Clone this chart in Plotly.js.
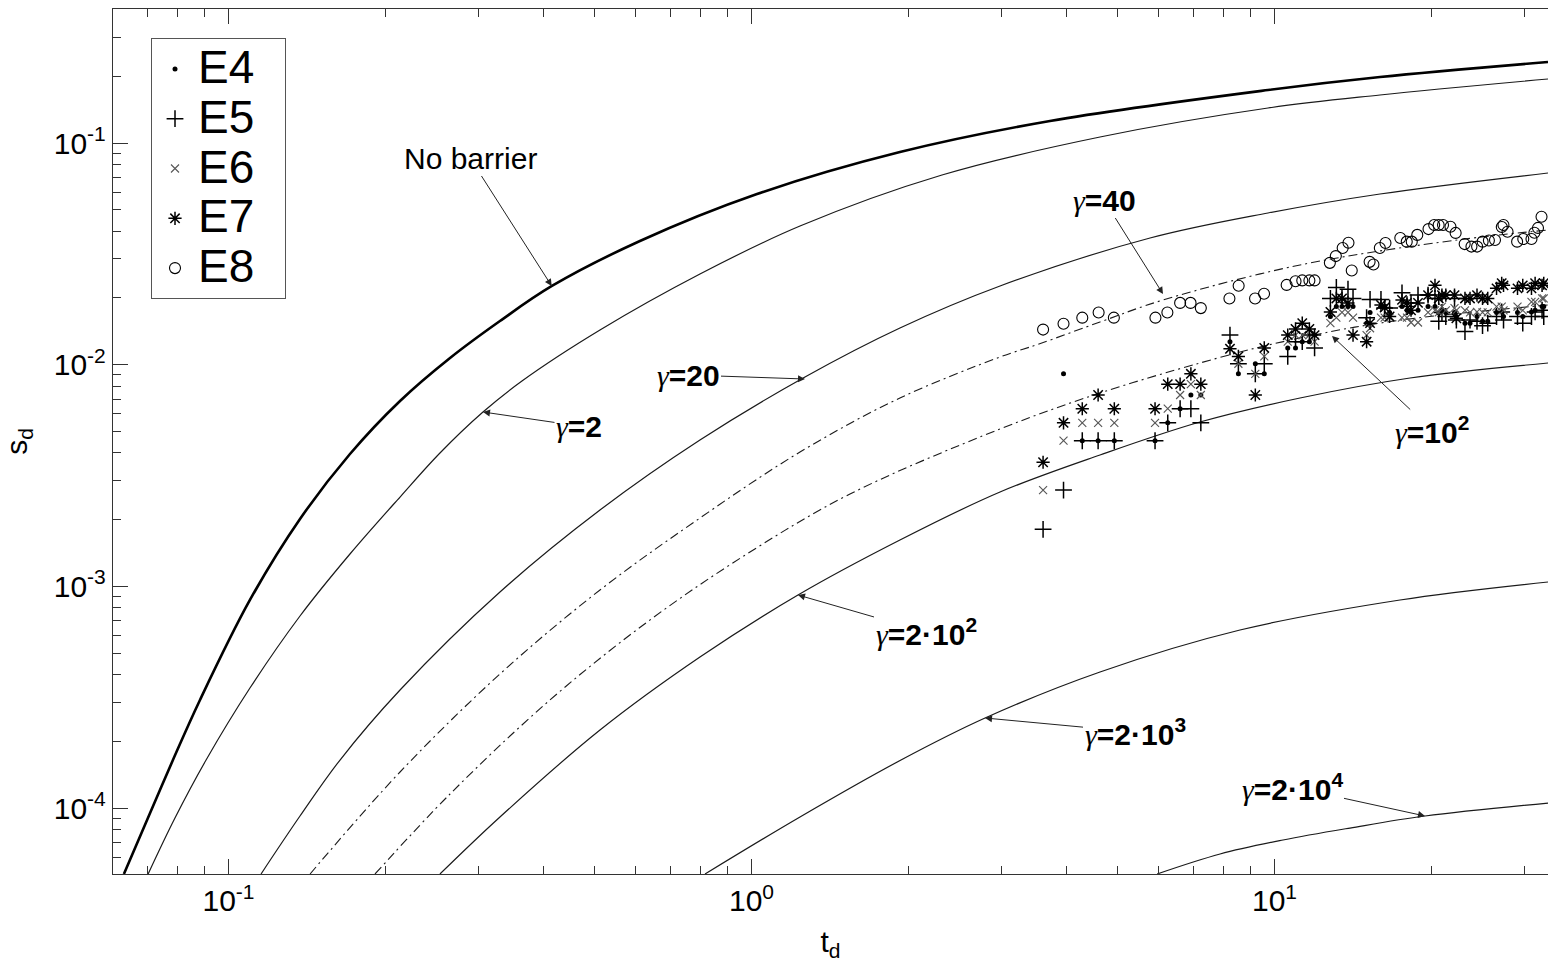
<!DOCTYPE html>
<html><head><meta charset="utf-8">
<script src="https://cdn.plot.ly/plotly-3.0.1.min.js"></script>
<style>html,body{margin:0;padding:0;background:#fff}#chart{width:1548px;height:965px}</style>
</head><body><div id="chart"></div>
<script>
// ---------- model curves (t_d, s_d) ----------
const tNoBarrier = [0.0631,0.0708,0.0783,0.0882,0.1099,0.1370,0.1707,0.2128,0.2652,0.3304,0.4153,0.6119,1.0245,1.9223,3.7214,9.7186,15.912,33.34];
const sNoBarrier = [5.045e-5,9.50e-5,1.648e-4,3.074e-4,8.685e-4,2.014e-3,3.955e-3,6.860e-3,1.072e-2,1.574e-2,2.265e-2,3.614e-2,5.888e-2,9.108e-2,0.1257,0.1734,0.1984,0.2319];

const tG2 = [0.0702,0.0790,0.0906,0.1099,0.1370,0.1707,0.2128,0.2537,0.3066,0.3640,0.5132,0.7970,1.2380,2.3132,4.6384,9.7186,15.912,33.34];
const sG2 = [5.045e-5,9.02e-5,1.648e-4,3.480e-4,7.354e-4,1.400e-3,2.530e-3,3.997e-3,6.118e-3,8.443e-3,1.434e-2,2.565e-2,4.222e-2,7.173e-2,0.1064,0.1438,0.1646,0.1944];

const tG20 = [0.1154,0.1370,0.1634,0.2128,0.3304,0.5132,0.7970,1.2654,1.9223,2.9867,5.7810,9.7186,15.912,33.34];
const sG20 = [5.045e-5,9.21e-5,1.648e-4,3.409e-4,9.436e-4,2.211e-3,4.575e-3,8.801e-3,1.464e-2,2.265e-2,3.727e-2,4.834e-2,5.888e-2,7.322e-2];

const tG40 = [0.1432,0.2128,0.3304,0.5132,0.7970,1.2380,1.9223,2.9867,3.5457,4.6384,6.1220,11.189,22.331,33.34];
const sG40 = [5.045e-5,1.455e-4,4.026e-4,9.634e-4,2.034e-3,4.038e-3,7.077e-3,1.083e-2,1.240e-2,1.558e-2,1.958e-2,2.817e-2,3.651e-2,4.051e-2];

const tG100 = [0.1906,0.2652,0.4118,0.6394,0.9934,1.5429,2.9867,4.6384,7.2028,9.3826,11.189,13.945,18.728,33.34];
const sG100 = [5.045e-5,1.158e-4,3.074e-4,7.054e-4,1.429e-3,2.611e-3,5.129e-3,7.453e-3,1.018e-2,1.202e-2,1.319e-2,1.464e-2,1.624e-2,1.859e-2];

const tG200 = [0.2537,0.3304,0.5132,0.7970,1.2271,1.9223,2.9867,4.6384,7.2028,11.189,18.159,33.34];
const sG200 = [5.045e-5,9.12e-5,2.251e-4,4.804e-4,9.146e-4,1.619e-3,2.666e-3,3.915e-3,5.514e-3,7.077e-3,8.710e-3,1.018e-2];

const tG2000 = [0.8150,1.2380,1.9311,2.7960,4.6384,8.5901,17.378,33.34];
const sG2000 = [5.045e-5,9.12e-5,1.648e-4,2.549e-4,4.111e-4,6.357e-4,8.685e-4,1.047e-3];

const tG20000 = [5.963,7.869,10.382,13.945,19.401,33.34];
const sG20000 = [5.045e-5,6.21e-5,7.18e-5,8.13e-5,9.21e-5,1.054e-4];

// ---------- experiments ----------
const tExp = [3.61,3.95,4.29,4.60,4.94,5.91,6.25,6.60,6.92,7.23,8.22,8.53,9.19,9.56,10.6,10.97,11.3,11.66,11.93,12.79,13.13,13.46,13.82,14.13,15.0,15.23,15.98,16.24,16.6,17.53,17.92,18.24,18.81,19.66,20.27,20.61,20.9,21.26,22.09,22.27,23.13,23.65,24.39,24.99,25.57,26.58,27.19,27.41,29.15,29.83,31.0,31.5,32.48,32.72];
const sE4 = [null,0.0091,0.00454,0.00454,0.00454,0.00454,0.00547,0.00633,0.0073,0.0073,0.0127,0.0091,0.0101,0.0091,0.0119,0.0119,0.0127,0.0127,0.0136,0.0165,0.0183,0.0183,0.0183,0.0183,0.0154,0.0172,0.0183,0.0183,0.0172,0.0183,0.0176,0.0172,0.0176,0.0183,0.0183,0.0171,0.0176,0.0172,0.0172,0.0165,0.0154,0.0154,0.0165,0.0157,0.0157,0.0172,0.0173,0.0165,0.0172,0.0165,0.0173,0.0176,0.0183,0.0183];
const sE5 = [0.00181,0.00272,0.00454,0.00454,0.00454,0.00454,0.00547,0.00633,0.00633,0.00547,0.0136,0.0101,0.0091,0.0101,0.0109,0.0127,0.0127,0.0136,0.0119,0.0199,0.0223,0.0199,0.0219,0.0199,0.0163,0.0197,0.0197,0.0180,0.0180,0.0211,0.0183,0.0190,0.0206,0.0206,0.0199,0.0157,0.0172,0.0165,0.0199,0.0159,0.0141,0.0159,0.0157,0.0150,0.0154,0.0165,0.0173,0.0159,0.0165,0.0154,0.0165,0.0173,0.0176,0.0165];
const sE6 = [0.00272,0.00454,0.00547,0.00547,0.00547,0.00547,0.00633,0.0073,0.00817,0.0073,0.0118,0.0101,0.0091,0.0109,0.0127,0.0136,0.0136,0.0136,0.0127,0.0154,0.0163,0.0172,0.0172,0.0163,0.0136,0.0146,0.0163,0.0163,0.0163,0.0163,0.0163,0.0155,0.0155,0.0172,0.0176,0.0172,0.0183,0.0176,0.0180,0.0176,0.0176,0.0172,0.0173,0.0172,0.0172,0.0183,0.0183,0.0176,0.0183,0.0176,0.0192,0.0192,0.0199,0.0199];
const sE7 = [0.00363,0.00547,0.00633,0.0073,0.00633,0.00633,0.00817,0.00817,0.0091,0.00817,0.0118,0.0109,0.0073,0.0119,0.0136,0.0145,0.0154,0.0145,0.0136,0.0173,0.0199,0.0199,0.0190,0.0136,0.0127,0.0154,0.0186,0.0181,0.0165,0.0196,0.0190,0.0176,0.0190,0.0206,0.0228,0.0199,0.0206,0.0206,0.0206,0.0162,0.0199,0.0199,0.0206,0.0199,0.0199,0.0221,0.0233,0.0228,0.0221,0.0228,0.0221,0.0233,0.0228,0.0233];

const tE8 = [3.61,3.95,4.29,4.61,4.93,5.92,6.24,6.60,6.91,7.23,8.20,8.54,9.18,9.55,10.55,10.97,11.30,11.66,11.93,12.76,13.10,13.50,13.85,14.05,15.20,15.46,15.90,16.30,17.40,17.90,18.30,18.75,19.70,20.20,20.60,21.00,21.70,22.20,23.10,23.80,24.40,25.00,25.70,26.40,27.20,27.40,27.90,29.10,29.90,31.00,31.40,31.90,32.40];
const sE8 = [0.0144,0.0153,0.0163,0.0172,0.0163,0.0163,0.0172,0.0190,0.0190,0.0180,0.0199,0.0227,0.0199,0.0209,0.0229,0.0238,0.0240,0.0240,0.0240,0.0288,0.0309,0.0336,0.0355,0.0266,0.0291,0.0283,0.0336,0.0354,0.0373,0.0359,0.0359,0.0385,0.0409,0.0427,0.0427,0.0427,0.0419,0.0393,0.0350,0.0341,0.0341,0.0359,0.0363,0.0365,0.0418,0.0427,0.0398,0.0359,0.0369,0.0369,0.0394,0.0414,0.0465];

// ---------- ticks ----------
const xMajor = [0.1, 1, 10];
const xMajorText = ['10<sup>-1</sup>','10<sup>0</sup>','10<sup>1</sup>'];
const yMajor = [1e-4, 1e-3, 1e-2, 1e-1];
const yMajorText = ['10<sup>-4</sup>','10<sup>-3</sup>','10<sup>-2</sup>','10<sup>-1</sup>'];
const xMinor = [0.07,0.08,0.09,0.2,0.3,0.4,0.5,0.6,0.7,0.8,0.9,2,3,4,5,6,7,8,9,20,30];
const yMinor = [6e-5,7e-5,8e-5,9e-5,2e-4,3e-4,4e-4,5e-4,6e-4,7e-4,8e-4,9e-4,2e-3,3e-3,4e-3,5e-3,6e-3,7e-3,8e-3,9e-3,0.02,0.03,0.04,0.05,0.06,0.07,0.08,0.09,0.2,0.3];

// ---------- layout geometry ----------
const W = 1548, H = 965;
const X0 = 113, X1 = 1548, Y0 = 9, Y1 = 874;
const xRange = [-1.22084, 1.52294];
const yRange = [-4.2972, -0.3956];
const NARROW = 'Liberation Sans Narrow, Liberation Sans, Arial, sans-serif';
const SANS = 'Liberation Sans, Arial, sans-serif';
const ink = '#1a1a1a';

const thin = {color: ink, width: 1.2, shape: 'spline', smoothing: 1};
const dashdot = {color: ink, width: 1.1, shape: 'spline', smoothing: 1, dash: '9px,4px,2px,4px'};

function curve(t, s, line) {
  return {x: t, y: s, mode: 'lines', line: line, showlegend: false, hoverinfo: 'skip'};
}
function exp(name, t, s, marker) {
  return {x: t, y: s, mode: 'markers',
    name: '<span style="font-size:46px">' + name + '\u00A0\u00A0</span>',
    marker: marker, cliponaxis: true};
}

const traces = [
  curve(tNoBarrier, sNoBarrier, {color: '#000', width: 2.6, shape: 'spline', smoothing: 1}),
  curve(tG2, sG2, thin),
  curve(tG20, sG20, thin),
  curve(tG40, sG40, dashdot),
  curve(tG100, sG100, dashdot),
  curve(tG200, sG200, thin),
  curve(tG2000, sG2000, thin),
  curve(tG20000, sG20000, thin),
  exp('E4', tExp, sE4, {symbol: 'circle', size: 5, color: '#000'}),
  exp('E5', tExp, sE5, {symbol: 'cross-thin', size: 12, color: '#000', line: {color: '#000', width: 1.5}}),
  exp('E6', tExp, sE6, {symbol: 'x-thin', size: 8, color: '#555', line: {color: '#555', width: 1.1}}),
  exp('E7', tExp, sE7, {symbol: 'asterisk', size: 11, color: '#000', line: {color: '#000', width: 1.5}}),
  exp('E8', tE8, sE8, {symbol: 'circle-open', size: 11, color: '#000', line: {color: '#000', width: 1.1}})
];

function px(x) { return (x - X0) / (X1 - X0); }
function py(y) { return (Y1 - y) / (Y1 - Y0); }

// labels: text, text centre (page px), arrow tip (page px)
const G = '<span style="font-family:Liberation Serif;font-style:italic;font-weight:normal">γ</span>';
const labels = [
  ['No barrier', 470, 158, 551.7, 286],
  [G + '<b>=2</b>', 579, 426, 483, 412],
  [G + '<b>=20</b>', 688, 375, 805, 379],
  [G + '<b>=40</b>', 1104, 200, 1163, 294],
  [G + '<b>=10<sup>2</sup></b>', 1432, 430, 1332, 336],
  [G + '<b>=2·10<sup>2</sup></b>', 926, 632, 798, 595],
  [G + '<b>=2·10<sup>3</sup></b>', 1135, 732, 985, 718],
  [G + '<b>=2·10<sup>4</sup></b>', 1292, 787, 1425, 816]
];

const annotations = labels.map(l => ({
  xref: 'paper', yref: 'paper', x: px(l[3]), y: py(l[4]),
  ax: l[1] - l[3], ay: l[2] - l[4], axref: 'pixel', ayref: 'pixel',
  text: l[0], xanchor: 'center', yanchor: 'middle',
  showarrow: true, arrowhead: 2, arrowsize: 1.4, arrowwidth: 1, arrowcolor: '#222', standoff: 0,
  font: {family: SANS, size: 30, color: '#000'}
}));

const axisCommon = {
  type: 'log', showgrid: false, zeroline: false,
  showline: true, linecolor: '#333', linewidth: 1.2,
  ticks: 'inside', ticklen: 15, tickwidth: 1, tickcolor: '#333',
  tickmode: 'array',
  tickfont: {family: NARROW, size: 30, color: '#000'}
};

const layout = {
  width: W, height: H,
  margin: {l: X0, r: W - X1, t: Y0, b: H - Y1, pad: 0},
  paper_bgcolor: '#fff', plot_bgcolor: '#fff',
  showlegend: true,
  legend: {
    x: px(151), y: py(38), xanchor: 'left', yanchor: 'top',
    bgcolor: '#fff', bordercolor: '#555', borderwidth: 1,
    font: {family: NARROW, size: 36, color: '#000'},
    itemwidth: 36, tracegroupgap: 0
  },
  xaxis: Object.assign({}, axisCommon, {
    range: xRange, tickvals: xMajor, ticktext: xMajorText, mirror: 'ticks',
    minor: {tickmode: 'array', tickvals: xMinor, ticks: 'inside', ticklen: 8, tickwidth: 1, tickcolor: '#333', showgrid: false},
    title: {text: 't<sub>d</sub>', font: {family: NARROW, size: 30, color: '#000'}, standoff: 14}
  }),
  yaxis: Object.assign({}, axisCommon, {
    range: yRange, tickvals: yMajor, ticktext: yMajorText, mirror: false,
    minor: {tickmode: 'array', tickvals: yMinor, ticks: 'inside', ticklen: 8, tickwidth: 1, tickcolor: '#333', showgrid: false},
    title: {text: 's<sub>d</sub>', font: {family: NARROW, size: 30, color: '#000'}, standoff: 24}
  }),
  annotations: annotations
};

Plotly.newPlot('chart', traces, layout, {displayModeBar: false, staticPlot: true});
</script></body></html>
